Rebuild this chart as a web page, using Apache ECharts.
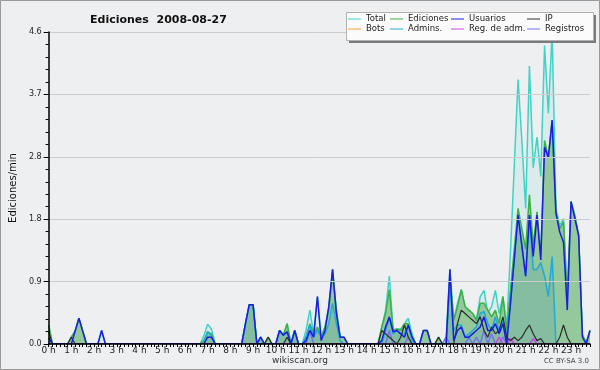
<!DOCTYPE html>
<html>
<head>
<meta charset="utf-8">
<script src="https://cdn.jsdelivr.net/npm/echarts@6/dist/echarts.min.js"></script>
<style>
html,body{margin:0;padding:0;background:#eeeff1;}
#c{width:600px;height:370px;}
</style>
</head>
<body>
<div id="c"></div>
<script>
// ---- tick labels ----
const hourLabels = ['0 h','1 h','2 h','3 h','4 h','5 h','6 h','7 h','8 h','9 h','10 h','11 h',
  '12 h','13 h','14 h','15 h','16 h','17 h','18 h','19 h','20 h','21 h','22 h','23 h'];
const yTicks = [0, 0.92, 1.84, 2.76, 3.68, 4.6];

// ---- series values (Ediciones/min, one value per 10 minutes, 6 per hour) ----
const total = [
  0.28,0,0,0,0,0,  0.1,0.19,0.38,0.19,0,0,  0,0,0.2,0,0,0,  0,0,0,0,0,0,
  0,0,0,0,0,0,  0,0,0,0,0,0,  0,0,0,0,0,0.12,  0.29,0.22,0,0,0,0,
  0,0,0,0,0.3,0.58,  0.58,0,0.1,0,0.1,0,  0,0.2,0.13,0.3,0,0.2,  0,0,0.2,0.5,0.15,0.7,
  0.1,0.25,0.55,1.1,0.5,0.1,  0.1,0,0,0,0,0,  0,0,0,0,0.25,0.5,  1.0,0.2,0.22,0.22,0.3,0.38,
  0.15,0,0,0.2,0.2,0,  0,0.1,0,0.1,1.1,0.35,  0.6,0.8,0.55,0.5,0.45,0.35,  0.7,0.79,0.45,0.55,0.79,0.45,
  0.7,0.25,1.37,2.63,3.9,3.0,  2.0,4.1,2.6,3.05,2.47,4.4,  3.4,4.6,2.0,1.75,1.85,0.7,  2.1,1.9,1.6,0.13,0.02,0.2
];
const ediciones = [
  0.28,0,0,0,0,0,  0.1,0.19,0.38,0.19,0,0,  0,0,0,0,0,0,  0,0,0,0,0,0,
  0,0,0,0,0,0,  0,0,0,0,0,0,  0,0,0,0,0,0.05,  0.18,0.15,0,0,0,0,
  0,0,0,0,0.3,0.58,  0.58,0,0.1,0,0.1,0,  0,0.2,0.13,0.3,0,0.2,  0,0,0.1,0.3,0.15,0.25,
  0.1,0.25,0.5,1.05,0.5,0.1,  0.1,0,0,0,0,0,  0,0,0,0,0.25,0.45,  0.8,0.2,0.22,0.2,0.3,0.3,
  0.1,0,0,0.2,0.2,0,  0,0.1,0,0,1.0,0.35,  0.55,0.8,0.55,0.5,0.45,0.35,  0.6,0.6,0.5,0.4,0.5,0.3,
  0.7,0.2,0.8,1.4,2.0,1.7,  1.4,2.2,1.45,1.95,1.3,3.0,  2.75,3.3,1.95,1.7,1.8,0.7,  2.1,1.88,1.6,0.13,0.02,0.2
];
const usuarios = [
  0.09,0,0,0,0,0,  0,0.19,0.38,0.19,0,0,  0,0,0.2,0,0,0,  0,0,0,0,0,0,
  0,0,0,0,0,0,  0,0,0,0,0,0,  0,0,0,0,0,0,  0.1,0.1,0,0,0,0,
  0,0,0,0,0.3,0.58,  0.58,0,0.1,0,0,0,  0,0.2,0.13,0.18,0,0.2,  0,0,0.05,0.2,0.1,0.7,
  0.05,0.2,0.55,1.1,0.45,0.1,  0.1,0,0,0,0,0,  0,0,0,0,0.05,0.25,  0.4,0.18,0.2,0.15,0.1,0.28,
  0.1,0,0,0.2,0.2,0,  0,0,0,0,1.1,0.05,  0.2,0.25,0.1,0.1,0.15,0.2,  0.25,0.4,0.2,0.2,0.3,0.15,
  0.3,0,0.6,1.25,1.9,1.45,  1.0,1.9,1.29,1.9,1.24,2.9,  2.75,3.3,1.93,1.65,1.5,0.5,  2.1,1.85,1.6,0.1,0,0.2
];
const ip = [
  0.19,0,0,0,0,0,  0.1,0,0,0,0,0,  0,0,0,0,0,0,  0,0,0,0,0,0,
  0,0,0,0,0,0,  0,0,0,0,0,0,  0,0,0,0,0,0,  0,0,0,0,0,0,
  0,0,0,0,0,0,  0,0,0,0,0.1,0,  0,0,0,0.1,0,0,  0,0,0,0,0,0,
  0,0,0,0,0,0,  0,0,0,0,0,0,  0,0,0,0,0.2,0.15,  0.1,0.05,0,0.1,0.28,0.1,
  0,0,0,0,0,0,  0,0.1,0,0,0,0,  0.3,0.5,0.45,0.4,0.35,0.3,  0.4,0.2,0.1,0.25,0.15,0.2,
  0.4,0.1,0.05,0.1,0.05,0.1,  0.2,0.28,0.15,0.05,0.08,0,  0,0,0,0.1,0.28,0.1,  0,0,0,0,0,0
];
const bots = new Array(144).fill(0);
const admins = [
  0,0,0,0,0,0,  0,0,0,0,0,0,  0,0,0,0,0,0,  0,0,0,0,0,0,
  0,0,0,0,0,0,  0,0,0,0,0,0,  0,0,0,0,0,0,  0.18,0.12,0,0,0,0,
  0,0,0,0,0.3,0.58,  0.58,0,0.1,0,0,0,  0,0.2,0.13,0.18,0,0.2,  0,0,0.1,0.28,0.1,0.2,
  0.1,0.15,0.3,0.6,0.3,0.05,  0,0,0,0,0,0,  0,0,0,0,0,0.2,  0.38,0.15,0.2,0.15,0.15,0.28,
  0.05,0,0,0,0,0,  0,0,0,0,0.9,0.2,  0.28,0.28,0.1,0.15,0.2,0.25,  0.45,0.48,0.3,0.2,0.4,0.2,
  0.35,0.1,0.6,1.25,1.9,1.45,  1.0,1.9,1.1,1.1,1.2,1.0,  0.7,1.29,0,0,0,0,  0,0,0,0,0,0
];
const regAdm = [
  0,0,0,0,0,0,  0,0,0,0,0,0,  0,0,0,0,0,0,  0,0,0,0,0,0,
  0,0,0,0,0,0,  0,0,0,0,0,0,  0,0,0,0,0,0,  0,0,0,0,0,0,
  0,0,0,0,0,0,  0,0,0,0,0,0,  0,0,0,0,0,0,  0,0,0,0,0,0,
  0,0,0,0,0,0,  0,0,0,0,0,0,  0,0,0,0,0,0,  0,0,0,0,0,0,
  0,0,0,0,0,0,  0,0,0,0,0,0,  0,0,0,0,0,0,  0,0,0,0,0,0.1,
  0,0,0.08,0,0,0,  0,0,0.08,0,0,0,  0,0,0,0,0,0,  0,0,0,0,0,0
];
const registros = [
  0,0,0,0,0,0,  0,0,0,0,0,0,  0,0,0,0,0,0,  0,0,0,0,0,0,
  0,0,0,0,0,0,  0,0,0,0,0,0,  0,0,0,0,0,0,  0,0,0,0,0,0,
  0,0,0,0,0,0,  0,0,0,0,0,0,  0,0,0,0,0,0,  0,0,0,0.2,0,0,
  0,0,0,0,0,0,  0,0,0,0,0,0,  0,0,0,0,0,0,  0.2,0,0,0,0,0.1,
  0,0,0,0,0,0,  0,0,0,0.1,0,0,  0,0,0,0.1,0,0.1,  0,0.2,0,0.15,0,0,
  0.1,0,0,0,0,0,  0,0,0,0,0,0,  0,0,0,0,0,0,  0,0,0,0,0,0
];

// categories (10-minute slots), built from the hour labels
const categories = [];
hourLabels.forEach(function (h, hi) {
  for (let m = 0; m < 6; m++) categories.push(hi + ':' + (m * 10 < 10 ? '0' : '') + (m * 10));
});

const FONT = 'DejaVu Sans';
const colors = {
  'Total': '#3fd3c6', 'Ediciones': '#3cb043', 'Usuarios': '#1c1ce0', 'IP': '#2a2a2a',
  'Bots': '#f5a030', 'Admins.': '#22a8dc', 'Reg. de adm.': '#cc44dd', 'Registros': '#7373ee'
};

function line(name, data, z, extra) {
  const s = {
    name: name, type: 'line', data: data, symbol: 'none', z: z,
    lineStyle: { color: colors[name], width: 1.5 },
    itemStyle: { color: colors[name] },
    emphasis: { disabled: true }, silent: true, animation: false
  };
  return Object.assign(s, extra || {});
}

const legendBase = {
  orient: 'vertical', top: 14, itemGap: 0, itemWidth: 13, itemHeight: 1, icon: 'rect',
  padding: 0, selectedMode: false, z: 12,
  textStyle: { fontFamily: FONT, fontSize: 8.5, color: '#222', lineHeight: 10, padding: [0, 0, 0, 0] }
};

const chart = echarts.init(document.getElementById('c'), null, { renderer: 'canvas' });
chart.setOption({
  backgroundColor: '#eeeff1',
  animation: false,
  title: {
    text: 'Ediciones  2008-08-27', left: 85, top: 10,
    textStyle: { fontFamily: FONT, fontSize: 11, fontWeight: 'bold', color: '#111' }
  },
  grid: { left: 46, right: 10, top: 32, bottom: 26 },
  legend: [
    Object.assign({}, legendBase, { left: 348, data: ['Total', 'Bots'] }),
    Object.assign({}, legendBase, { left: 390, data: ['Ediciones', 'Admins.'] }),
    Object.assign({}, legendBase, { left: 451, data: ['Usuarios', 'Reg. de adm.'] }),
    Object.assign({}, legendBase, { left: 527, data: ['IP', 'Registros'] })
  ],
  xAxis: {
    type: 'category', data: categories, boundaryGap: false, z: 10,
    axisLine: { lineStyle: { color: '#000', width: 1.5 } },
    axisTick: { show: true, interval: 0, length: 3, lineStyle: { color: '#000' } },
    axisLabel: {
      interval: 5, margin: 2, fontFamily: FONT, fontSize: 9, color: '#222',
      formatter: function (v, idx) { return hourLabels[Math.floor(idx / 6)]; }
    },
    splitLine: { show: false }
  },
  yAxis: {
    type: 'value', min: yTicks[0], max: yTicks[yTicks.length - 1], interval: yTicks[1], z: 10,
    name: 'Ediciones/min', nameLocation: 'middle', nameGap: 30, nameRotate: 90,
    nameTextStyle: { fontFamily: FONT, fontSize: 10, color: '#111' },
    axisLine: { show: true, lineStyle: { color: '#000', width: 1.5 } },
    axisTick: { show: true, length: 5, lineStyle: { color: '#000' } },
    minorTick: { show: true, splitNumber: 5, length: 3, lineStyle: { color: '#000' } },
    axisLabel: {
      margin: 7, fontFamily: FONT, fontSize: 8, color: '#222',
      formatter: function (v) { return v.toFixed(1); }
    },
    splitLine: { show: true, lineStyle: { color: '#cccccc', width: 1 } }
  },
  series: [
    line('Total', total, 2, { areaStyle: { color: 'rgba(64,208,190,0.15)' } }),
    line('Ediciones', ediciones, 3, { areaStyle: { color: '#93c99b', opacity: 1 } }),
    line('Admins.', admins, 4, { areaStyle: { color: 'rgba(40,110,210,0.18)' } }),
    line('Bots', bots, 5),
    line('Registros', registros, 5),
    line('Reg. de adm.', regAdm, 5),
    line('IP', ip, 5, { lineStyle: { color: colors['IP'], width: 1.2 } }),
    line('Usuarios', usuarios, 6)
  ],
  graphic: [
    { type: 'rect', z: 10, silent: true, shape: { x: 349, y: 15, width: 247, height: 28 }, style: { fill: '#7a7a7a' } },
    { type: 'rect', z: 11, silent: true, shape: { x: 346.5, y: 12.5, width: 247, height: 28 }, style: { fill: '#fbfbfb', stroke: '#b0b0b0', lineWidth: 1 } },
    { type: 'text', z: 11, silent: true, x: 300, y: 356, style: { text: 'wikiscan.org', fill: '#333', font: '9px "DejaVu Sans"', textAlign: 'center' } },
    { type: 'text', z: 11, silent: true, x: 589, y: 358, style: { text: 'CC BY-SA 3.0', fill: '#444', font: '7px "DejaVu Sans"', textAlign: 'right' } },
    { type: 'rect', z: 20, silent: true, shape: { x: 0.5, y: 0.5, width: 599, height: 369 }, style: { fill: 'none', stroke: '#9a9a9a', lineWidth: 1 } }
  ]
});
</script>
</body>
</html>
